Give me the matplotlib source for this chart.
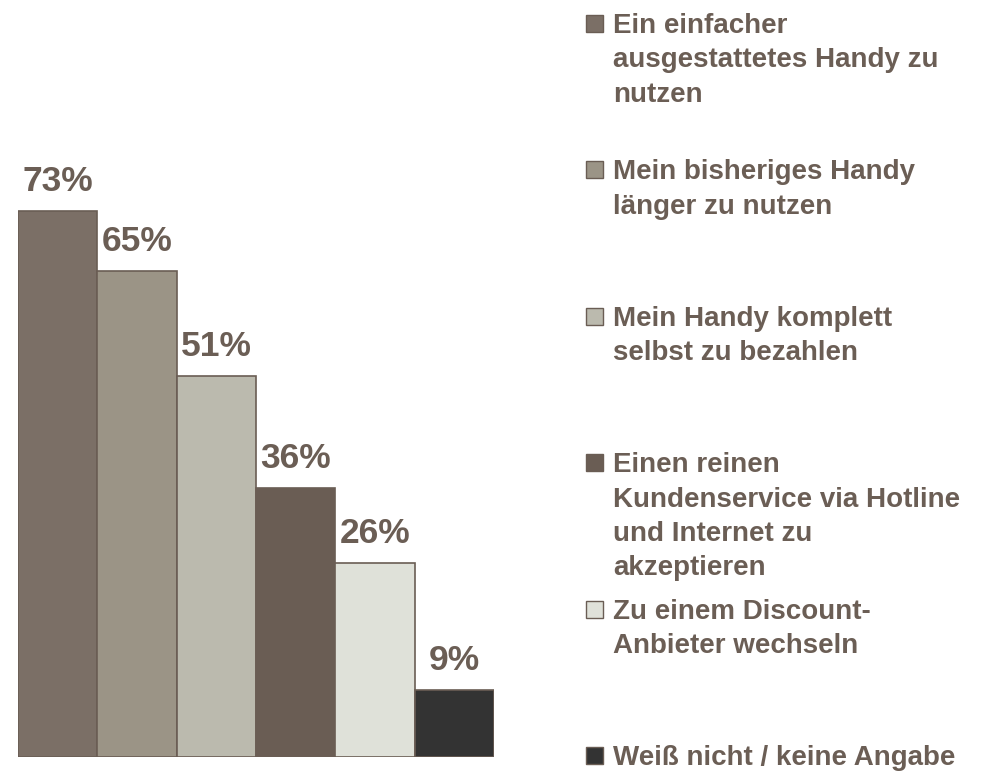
import matplotlib.pyplot as plt
from matplotlib.patches import Rectangle

# data
labels = [
    "Ein einfacher\nausgestattetes Handy zu\nnutzen",
    "Mein bisheriges Handy\nlänger zu nutzen",
    "Mein Handy komplett\nselbst zu bezahlen",
    "Einen reinen\nKundenservice via Hotline\nund Internet zu\nakzeptieren",
    "Zu einem Discount-\nAnbieter wechseln",
    "Weiß nicht / keine Angabe",
]
values = [73, 65, 51, 36, 26, 9]
colors = ["#7B6F66", "#9B9486", "#BBBAAE", "#6A5D54", "#DFE1D9", "#333333"]

text_color = "#6B5E55"
edge_color = "#6A5D54"

plt.rcParams['font.family'] = ['Liberation Sans', 'DejaVu Sans']

fig = plt.figure(figsize=(9.88, 7.72), dpi=100)
W, H = 988, 772

# axes placed in pixel terms
ax = fig.add_axes([18 / W, 15 / H, 476 / W, 757 / H])
x = list(range(len(values)))
bars = ax.bar(x, values, width=1.0, color=colors, edgecolor=edge_color,
              linewidth=1.2)
ax.set_xlim(-0.5, len(values) - 0.5)
ax.set_ylim(0, 101.2)
ax.axis("off")

for xi, v in zip(x, values):
    ax.annotate(f"{v}%", (xi, v), xytext=(0, 14), textcoords="offset points",
                ha="center", va="baseline", fontsize=25.5, fontweight="bold",
                color=text_color)

# legend entries, first line of each evenly spaced
sq = 17
for i, (lab, c) in enumerate(zip(labels, colors)):
    top = 15 + i * 146.4
    fig.patches.append(Rectangle((586 / W, 1 - (top + sq) / H), sq / W, sq / H,
                                 transform=fig.transFigure, facecolor=c,
                                 edgecolor=edge_color, linewidth=1.0))
    fig.text(613 / W, 1 - (top - 2) / H, lab, ha="left", va="top",
             fontsize=20, fontweight="bold", color=text_color,
             linespacing=1.42)

fig.savefig("out.png", dpi=100)
